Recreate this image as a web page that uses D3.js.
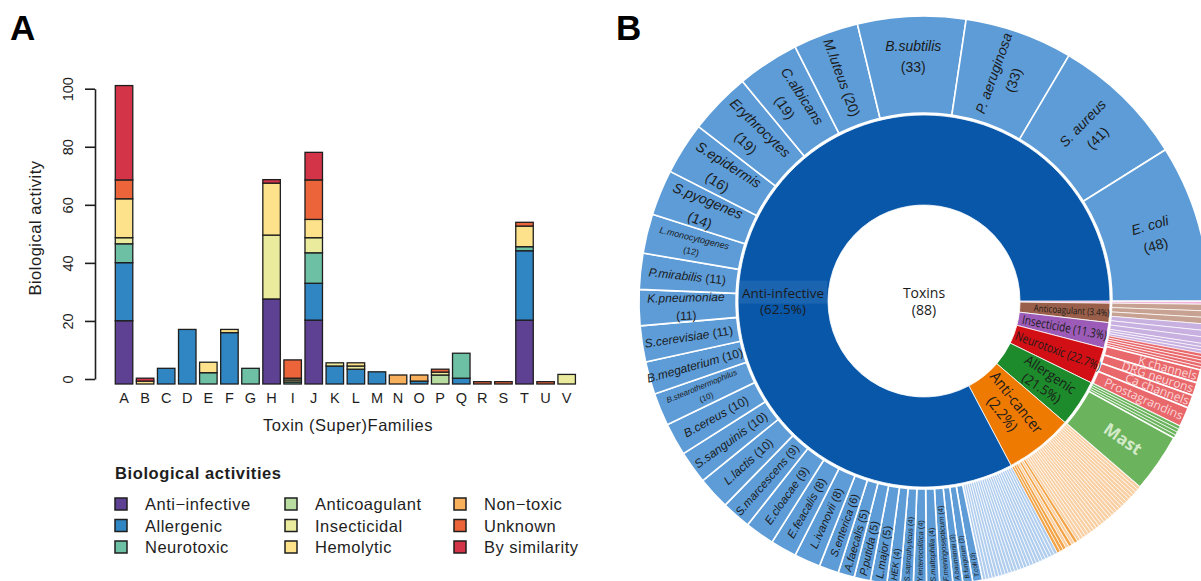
<!DOCTYPE html>
<html>
<head>
<meta charset="utf-8">
<script src="https://cdn.jsdelivr.net/npm/d3@7"></script>
<style>
  body { margin: 0; background: #fff; }
  svg { display: block; font-family: "Liberation Sans", Arial, sans-serif; }
</style>
</head>
<body>
<svg id="fig" width="1201" height="581"></svg>
<script>
// ---------------- data: panel A ----------------
const families = ["A","B","C","D","E","F","G","H","I","J","K","L","M","N","O","P","Q","R","S","T","U","V"];
const activities = ["Anti\u2212infective","Allergenic","Neurotoxic","Anticoagulant","Insecticidal","Hemolytic","Non\u2212toxic","Unknown","By similarity"];
const activityColors = ["#5f4194","#2f86c2","#6dc0a3","#b9dca1","#ebeb9e","#fde28b","#f8b05c","#ec643a","#d33447"];

//                     A     B  C    D     E    F     G    H     I    J     K    L    M    N    O    P    Q    R    S    T     U    V
const antiInfective = [21.8, 0, 0,   0,    0,   0,    0,   29.3, 0,   22,   0,   0,   0,   0,   0,   0,   0,   0,   0,   22,   0,   0];
const allergenic    = [20,   0, 5.4, 18.8, 0,   17.7, 0,   0,    0,   12.7, 6.2, 5.1, 4.2, 0,   1.0, 0,   2.0, 0,   0,   23.9, 0,   0];
const neurotoxic    = [6.5,  0, 0,   0,    3.9, 0,    5.4, 0,    0.7, 10.5, 0,   0,   0,   0,   0,   0,   8.6, 0,   0,   1.4,  0,   0];
const anticoagulant = [0,    0, 0,   0,    0,   0,    0,   0,    0,   0,    0,   0,   0,   0,   0,   3.1, 0,   0,   0,   0,    0,   0];
const insecticidal  = [2.1,  0, 0,   0,    0,   0,    0,   22,   0.7, 5.2,  1.1, 1.1, 0,   0,   0,   1.0, 0,   0,   0,   0,    0,   3.3];
const hemolytic     = [13.4, 1, 0,   0,    3.6, 1.1,  0,   17.9, 0.6, 6.3,  0,   1.1, 0,   0,   0,   0,   0,   0,   0,   7.1,  0,   0];
const nonToxic      = [0,    0, 0,   0,    0,   0,    0,   0,    0,   0,    0,   0,   0,   3.1, 2.1, 0,   0,   0,   0,   0,    0,   0];
const unknown       = [6.5,  0, 0,   0,    0,   0,    0,   0,    6.3, 13.6, 0,   0,   0,   0,   0,   1.0, 0,   0.8, 0.8, 1.3,  0.8, 0];
const bySimilarity  = [32.5, 1, 0,   0,    0,   0,    0,   1.2,  0,   9.5,  0,   0,   0,   0,   0,   0,   0,   0,   0,   0,    0,   0];
const activitySeries = [antiInfective, allergenic, neurotoxic, anticoagulant, insecticidal, hemolytic, nonToxic, unknown, bySimilarity];
const yTicks = [0, 20, 40, 60, 80, 100];

// ---------------- data: panel B ----------------
const classNames  = ["Other","Anticoagulant","Insecticide","Neurotoxic","Allergenic","Anti-cancer","Anti-infective"];
const classLabels = ["", "Anticoagulant (3.4%)", "Insecticide (11.3%)", "Neurotoxic (22.7%)", "Allergenic|(21.5%)", "Anti-cancer|(2.2%)", "Anti-infective|(62.5%)"];
const classValues = [1, 9, 12, 17, 22, 32, 446];   // inner ring (angular share)
const otherTargets = [1];
const anticoagulantTargets = [2, 2, 2];
const insecticideTargets = [2, 2, 2, 1, 1, 1];
const neurotoxicTargets = [1, 1, 1, 1, 1, 4, 4, 4, 6];
const neurotoxicTargetNames = ["", "", "", "", "", "K channels", "DRG neurons", "Ca channels", "Prostagrandins"];
const allergenicTargets = [1, 1, 1, 1, 18];
const allergenicTargetNames = ["", "", "", "", "Mast"];
const antiCancerTargets = [1,1,1,1,1,1,1,1,1,1,1,1,1,1,1,1,1,1,1,1,1,1,1,1,1,1,1,1,1,1,1,1];
const antiInfectiveNames = [
  "","","","","","","","","","","","","","","","","","","","","","","","",
  "T.coli","B.fungorum","A.baumannii","F.meningosepticum","S.maltophilia","Y.enterocolitica",
  "S.saprophyticus","HEK","L.major","P.putida","A.faecalis","S.enterica","L.ivanovii","E.feacalis",
  "E.cloacae","S.marcescens","L.lactis","S.sanguinis","B.cereus","B.stearothermophilus","B.megaterium",
  "S.cerevisiae","K.pneumoniae","P.mirabilis","L.monocytogenes","S.pyogenes","S.epidermis",
  "Erythrocytes","C.albicans","M.luteus","B.subtilis","P. aeruginosa","S. aureus","E. coli"];
const antiInfectiveCounts = [
  1,1,1,1,1,1,1,1,1,1,1,1,1,1,1,1,1,1,1,1,1,1,1,1,
  3,3,3,4,4,4,4,4,5,5,5,6,8,8,9,9,10,10,10,10,10,11,11,11,12,14,16,19,19,20,33,33,41,48];
const centerLabel = ["Toxins", "(88)"];

// ---------------- styles ----------------
const innerColors = ["#df78b6","#9a5f4a","#9c5bb6","#d20f14","#1d8a2b","#ee7a02","#0857a9"];
const outerColors = ["#f1b4da","#c7a191","#c8b0e1","#e8686c","#6cb35d","#f9d0a4","#5d9cd7"];
const hatchBlue = "#b0cdee";
const darkOrange = "#f2a447";
const darkAntiCancer = new Set([25, 27, 29, 30, 31]);
const twoLine = new Set(["E. coli","S. aureus","P. aeruginosa","B.subtilis","C.albicans","Erythrocytes",
  "S.epidermis","S.pyogenes","L.monocytogenes","K.pneumoniae","B.stearothermophilus"]);
const smallFont = { "L.monocytogenes": 9, "B.stearothermophilus": 8, "HEK": 9 };
const titleFont = { "font-size": 16.5, "letter-spacing": 0.5 };
// inner ring label styling: font size, radius, squeezed width of first line
const innerSizes = [0, 9.5, 12.5, 12.5, 13.5, 15, 13.5];
const innerRadii = [0, 148, 143, 143, 146, 137, 141];
const innerWidths = [0, 76, 86, 90, 58, 74, 0];

const svg = d3.select("#fig");

// ================= panel A =================
svg.append("text").attr("x", 10).attr("y", 40)
  .attr("font-size", 35).attr("font-weight", "bold").text("A");

const xScale = d3.scaleBand().domain(families).range([111.7, 579]).padding(0.17);
const yScale = d3.scaleLinear().domain([0, 100]).range([379, 88.7]);

const table = families.map((f, i) => {
  const row = { family: f };
  activities.forEach((a, k) => (row[a] = activitySeries[k][i]));
  return row;
});
const layers = d3.stack().keys(activities)(table);

const bars = svg.append("g").attr("transform", "translate(0,5)");
layers.forEach((layer, k) => {
  bars.append("g")
    .selectAll("rect")
    .data(layer.filter((d) => d[1] - d[0] > 0))
    .join("rect")
    .attr("x", (d) => xScale(d.data.family))
    .attr("width", xScale.bandwidth())
    .attr("y", (d) => yScale(d[1]))
    .attr("height", (d) => yScale(d[0]) - yScale(d[1]))
    .attr("fill", activityColors[k])
    .attr("stroke", "#1e1e1e")
    .attr("stroke-width", 1.3);
});

const yAxis = svg.append("g")
  .attr("transform", "translate(95,0)")
  .call(d3.axisLeft(yScale).tickValues(yTicks).tickSize(10).tickSizeOuter(0));
yAxis.select(".domain").attr("stroke", "#1e1e1e").attr("stroke-width", 1.6);
yAxis.selectAll(".tick line").attr("stroke", "#1e1e1e").attr("stroke-width", 1.6);
yAxis.selectAll(".tick text")
  .attr("transform", "rotate(-90)")
  .attr("x", 0).attr("y", -22).attr("dy", 0)
  .attr("text-anchor", "middle")
  .attr("font-size", 14.5).attr("font-family", "Liberation Sans, Arial, sans-serif")
  .attr("fill", "#1e1e1e");

svg.append("g")
  .selectAll("text")
  .data(families)
  .join("text")
  .attr("x", (d) => xScale(d) + xScale.bandwidth() / 2)
  .attr("y", 403)
  .attr("text-anchor", "middle")
  .attr("font-size", 14.5)
  .attr("fill", "#1e1e1e")
  .text((d) => d);

svg.append("text").attr("x", 348).attr("y", 431)
  .attr("text-anchor", "middle").attr("fill", "#1e1e1e")
  .attr("font-size", titleFont["font-size"]).attr("letter-spacing", titleFont["letter-spacing"])
  .text("Toxin (Super)Families");

svg.append("text").attr("transform", "translate(41,228) rotate(-90)")
  .attr("text-anchor", "middle").attr("fill", "#1e1e1e")
  .attr("font-size", titleFont["font-size"]).attr("letter-spacing", titleFont["letter-spacing"])
  .text("Biological activity");

// legend
const legend = svg.append("g");
legend.append("text").attr("x", 115).attr("y", 479)
  .attr("font-size", 16.5).attr("letter-spacing", 0.6).attr("font-weight", "bold").attr("fill", "#1e1e1e")
  .text("Biological activities");
const legendCols = [115, 285, 454];
const item = legend.selectAll(".item")
  .data(activities)
  .join("g")
  .attr("class", "item")
  .attr("transform", (d, i) => `translate(${legendCols[Math.floor(i / 3)]},${504 + (i % 3) * 21.5})`);
item.append("rect").attr("x", 0).attr("y", -6).attr("width", 12).attr("height", 12)
  .attr("fill", (d, i) => activityColors[i]).attr("stroke", "#1e1e1e").attr("stroke-width", 1.5);
item.append("text").attr("x", 30).attr("y", 6)
  .attr("font-size", titleFont["font-size"]).attr("letter-spacing", titleFont["letter-spacing"])
  .attr("fill", "#1e1e1e")
  .text((d) => d);

// ================= panel B =================
svg.append("text").attr("x", 616).attr("y", 40)
  .attr("font-size", 35).attr("font-weight", "bold").text("B");

const cx = 924, cy = 301;
const r0 = 96, r1 = 186, r2 = 188, r3 = 285;

const targetsByClass = [
  otherTargets.map((v) => ({ name: "", value: v })),
  anticoagulantTargets.map((v) => ({ name: "", value: v })),
  insecticideTargets.map((v) => ({ name: "", value: v })),
  neurotoxicTargets.map((v, i) => ({ name: neurotoxicTargetNames[i], value: v })),
  allergenicTargets.map((v, i) => ({ name: allergenicTargetNames[i], value: v })),
  antiCancerTargets.map((v) => ({ name: "", value: v })),
  antiInfectiveCounts.map((v, i) => ({ name: antiInfectiveNames[i], value: v })),
];
const classes = classNames.map((name, i) => ({ name, value: classValues[i] }));
const outer = targetsByClass.flatMap((list, ci) => list.map((d, j) => ({ ...d, cls: ci, idx: j })));

const pie = d3.pie().sort(null).value((d) => d.value)
  .startAngle(Math.PI / 2).endAngle(Math.PI / 2 + 2 * Math.PI);
const innerArcs = pie(classes);
const outerArcs = pie(outer);

const sun = svg.append("g").attr("transform", `translate(${cx},${cy})`);
const innerArc = d3.arc().innerRadius(r0).outerRadius(r1);
const outerArc = d3.arc().innerRadius(r2).outerRadius(r3);

sun.append("g").selectAll("path")
  .data(innerArcs).join("path")
  .attr("d", innerArc)
  .attr("fill", (d, i) => innerColors[i])
  .attr("stroke", "#fff").attr("stroke-width", 0.8);

function outerFill(d) {
  const c = d.data.cls;
  if (c === 6 && d.data.name === "") return hatchBlue;
  if (c === 5 && darkAntiCancer.has(d.data.idx)) return darkOrange;
  return outerColors[c];
}
sun.append("g").selectAll("path")
  .data(outerArcs).join("path")
  .attr("d", outerArc)
  .attr("fill", outerFill)
  .attr("stroke", "#fff")
  .attr("stroke-width", (d) => (d.data.value > 2 ? 1.6 : 0.7));

const deg = (a) => ((a * 180) / Math.PI + 360) % 360;
const polar = (a, r) => [r * Math.sin(a), -r * Math.cos(a)];
function rotationFor(a) {
  const g = deg(a);
  if (g < 6 || g > 354) return 0;
  return g < 150 ? g - 90 : g + 90;
}

// outer labels (anti-infective targets)
const outerLabels = sun.append("g").attr("fill", "#1b1b1b");
outerArcs.filter((d) => d.data.cls === 6 && d.data.name).forEach((d) => {
  const a = (d.startAngle + d.endAngle) / 2;
  const n = d.data.value;
  let size = n >= 14 ? 14 : n >= 10 ? 12 : n >= 8 ? 11.5 : n >= 5 ? 11 : n === 4 ? 7.5 : 6.5;
  if (smallFont[d.data.name]) size = smallFont[d.data.name];
  const anchorStart = n <= 5;
  const r = anchorStart ? 281 : deg(a) < 6 || deg(a) > 354 ? 245 : 238;
  const [x, y] = polar(a, r);
  const t = outerLabels.append("text")
    .attr("transform", `translate(${x},${y}) rotate(${rotationFor(a)})`)
    .attr("text-anchor", anchorStart ? "start" : "middle")
    .attr("font-size", size);
  if (twoLine.has(d.data.name)) {
    t.append("tspan").attr("x", 0).attr("dy", "-0.4em").attr("font-style", "italic").text(d.data.name);
    t.append("tspan").attr("x", 0).attr("dy", "1.5em").text(`(${n})`);
  } else {
    t.attr("dy", "0.35em");
    t.append("tspan").attr("font-style", "italic").text(d.data.name);
    t.append("tspan").text(` (${n})`);
  }
});

// neurotoxic / allergenic target labels
outerArcs.filter((d) => (d.data.cls === 3 || d.data.cls === 4) && d.data.name).forEach((d) => {
  const a = (d.startAngle + d.endAngle) / 2;
  const mast = d.data.cls === 4;
  const [x, y] = polar(a, mast ? 242 : 283);
  sun.append("text")
    .attr("transform", `translate(${x},${y}) rotate(${rotationFor(a)})`)
    .attr("text-anchor", mast ? "middle" : "end").attr("dy", "0.35em")
    .attr("font-family", "Open Sans, sans-serif")
    .attr("font-size", mast ? 17 : 12)
    .attr("font-weight", mast ? "bold" : "normal")
    .attr("fill", mast ? "#d3eac9" : "#fbd6d6")
    .text(d.data.name);
});

// inner labels
innerArcs.forEach((d, i) => {
  if (!classLabels[i]) return;
  const isMain = i === 6;
  const a = isMain ? (3 * Math.PI) / 2 : (d.startAngle + d.endAngle) / 2;
  const [x, y] = polar(a, innerRadii[i]);
  const lines = classLabels[i].split("|");
  const g = sun.append("g")
    .attr("transform", `translate(${x},${y}) rotate(${isMain ? 0 : deg(a) - 90})`);
  let squeeze = 1;
  const texts = lines.map((s, k) => {
    const t = g.append("text")
      .attr("y", (k - (lines.length - 1) / 2) * 1.2 * innerSizes[i])
      .attr("dy", "0.35em")
      .attr("text-anchor", "middle")
      .attr("font-family", "Open Sans, sans-serif")
      .attr("font-size", innerSizes[i])
      .attr("fill", "#1b1b1b")
      .text(s);
    if (innerWidths[i]) {
      // narrow the font to the width seen in the figure (condensed face)
      const natural = t.node().getComputedTextLength();
      if (k === 0) squeeze = innerWidths[i] / natural;
      t.attr("textLength", natural * squeeze).attr("lengthAdjust", "spacingAndGlyphs");
    }
    return t;
  });
  if (isMain) {
    const b = texts[0].node().getBBox();
    g.insert("rect", "text")
      .attr("x", -(r1 - innerRadii[i])).attr("y", b.y - 3)
      .attr("width", b.x + b.width + 3 + (r1 - innerRadii[i]))
      .attr("height", b.height + 5)
      .attr("fill", "#fff").attr("opacity", 0.08);
  }
});

const ct = sun.append("text").attr("text-anchor", "middle")
  .attr("font-family", "Open Sans, sans-serif").attr("font-size", 14).attr("fill", "#1b1b1b");
centerLabel.forEach((s, k) => {
  ct.append("tspan").attr("x", 0).attr("dy", k === 0 ? "-0.25em" : "1.25em").text(s);
});
</script>
</body>
</html>
